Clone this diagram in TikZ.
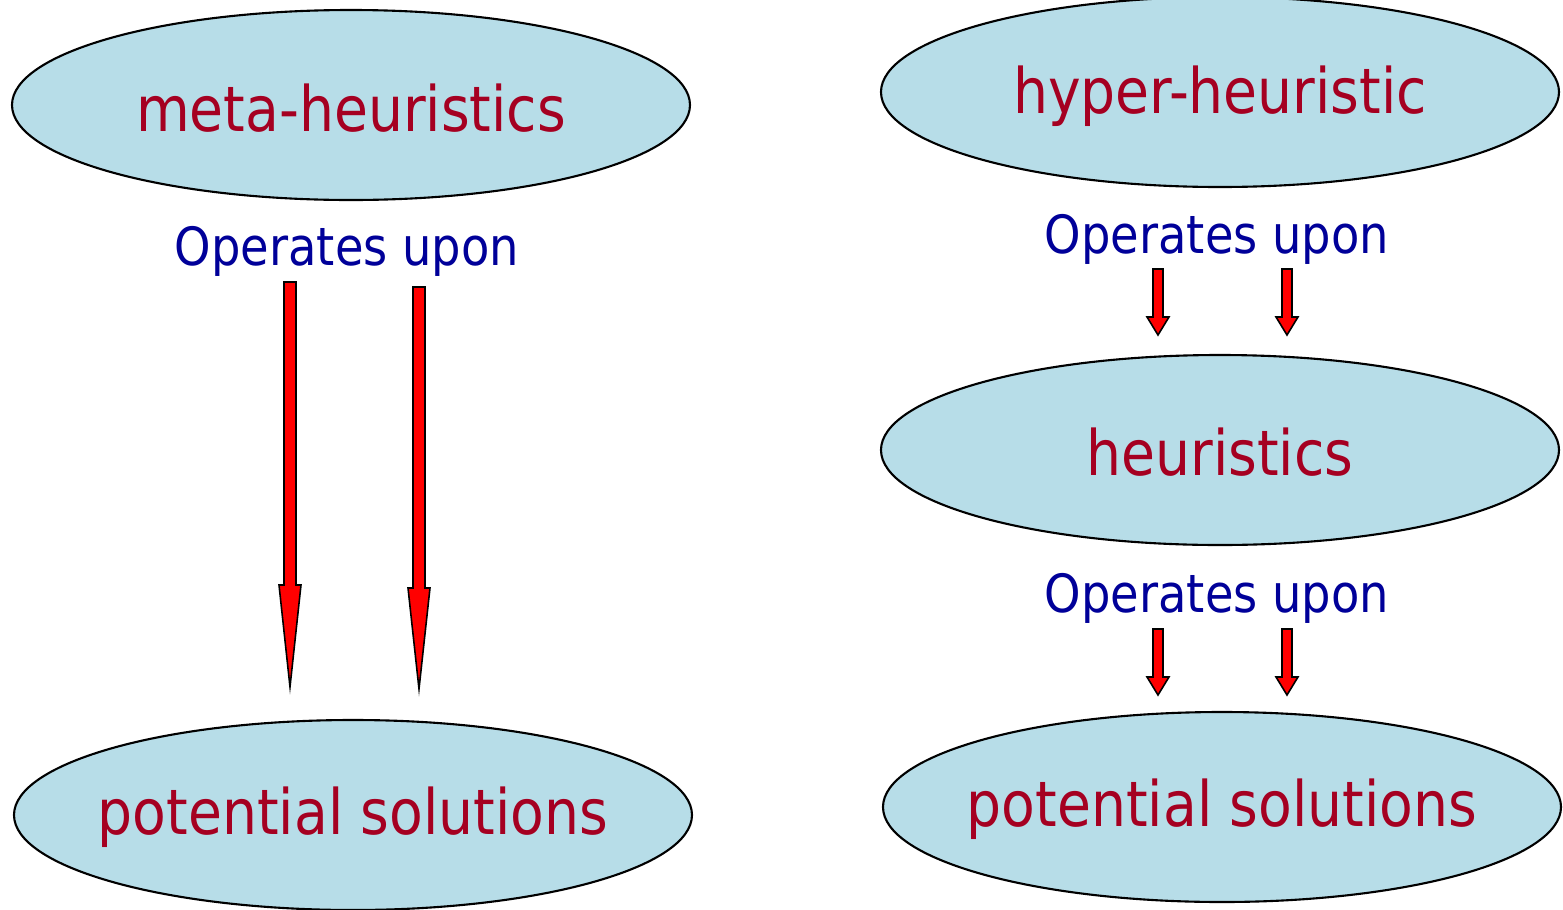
\documentclass[tikz,border=0pt]{standalone}
\usepackage{fontspec}
\setmainfont{DejaVu Sans}[FakeStretch=0.88]
\usetikzlibrary{shapes.geometric}
\definecolor{ovalfill}{RGB}{183,221,232}
\definecolor{termred}{RGB}{165,0,33}
\definecolor{relblue}{RGB}{0,0,153}
\newlength{\pxu}
\setlength{\pxu}{0.02cm}
\tikzset{
  oval/.style={ellipse, draw=black, line width=1.2pt, fill=ovalfill, inner sep=0pt,
    minimum width=678\pxu, minimum height=190\pxu},
  term/.style={text=termred, inner sep=0pt, font=\fontsize{35.7}{40}\selectfont},
  relation/.style={text=relblue, inner sep=0pt, font=\fontsize{30}{34}\selectfont},
  blockarrow/.style={fill=red, draw=black, line width=0.9pt, line join=miter}
}
% block arrow pointing down: centre x, top, start of head, tip, shaft half width, head half width
\newcommand{\dnarrow}[6]{%
  \draw[blockarrow] (#1-#5,#2) -- (#1+#5,#2) -- (#1+#5,#3) -- (#1+#6,#3) -- (#1,#4)
    -- (#1-#6,#3) -- (#1-#5,#3) -- cycle;}
\begin{document}
\begin{tikzpicture}[x=0.02cm, y=-0.02cm]
\useasboundingbox (0,0) rectangle (1563,910);

% left column
\node[oval] (meta) at (351,105) {};
\node[term] at ([yshift=-3\pxu]meta.center) {meta-heuristics};
\node[oval] (solA) at (353,815) {};
\node[term] at ([yshift=-2\pxu]solA.center) {potential solutions};
\node[relation] (opA) at (347,251) {Operates upon};
\dnarrow{290}{282}{585}{687}{6}{11}
\dnarrow{419}{287}{588}{689}{6}{11}

% right column
\node[oval] (hyper) at (1220,92) {};
\node[term] at ([yshift=-4\pxu]hyper.center) {hyper-heuristic};
\node[oval] (heur) at (1220,450) {};
\node[term] at ([yshift=-2\pxu]heur.center) {heuristics};
\node[oval] (solB) at (1222,807) {};
\node[term] at ([yshift=-2\pxu]solB.center) {potential solutions};
\node[relation] (opB) at (1217,239) {Operates upon};
\node[relation] (opC) at (1217,598) {Operates upon};
\dnarrow{1158}{269}{317}{335}{5}{11}
\dnarrow{1287}{269}{317}{335}{5}{11}
\dnarrow{1158}{629}{677}{695}{5}{11}
\dnarrow{1287}{629}{677}{695}{5}{11}
\end{tikzpicture}
\end{document}
